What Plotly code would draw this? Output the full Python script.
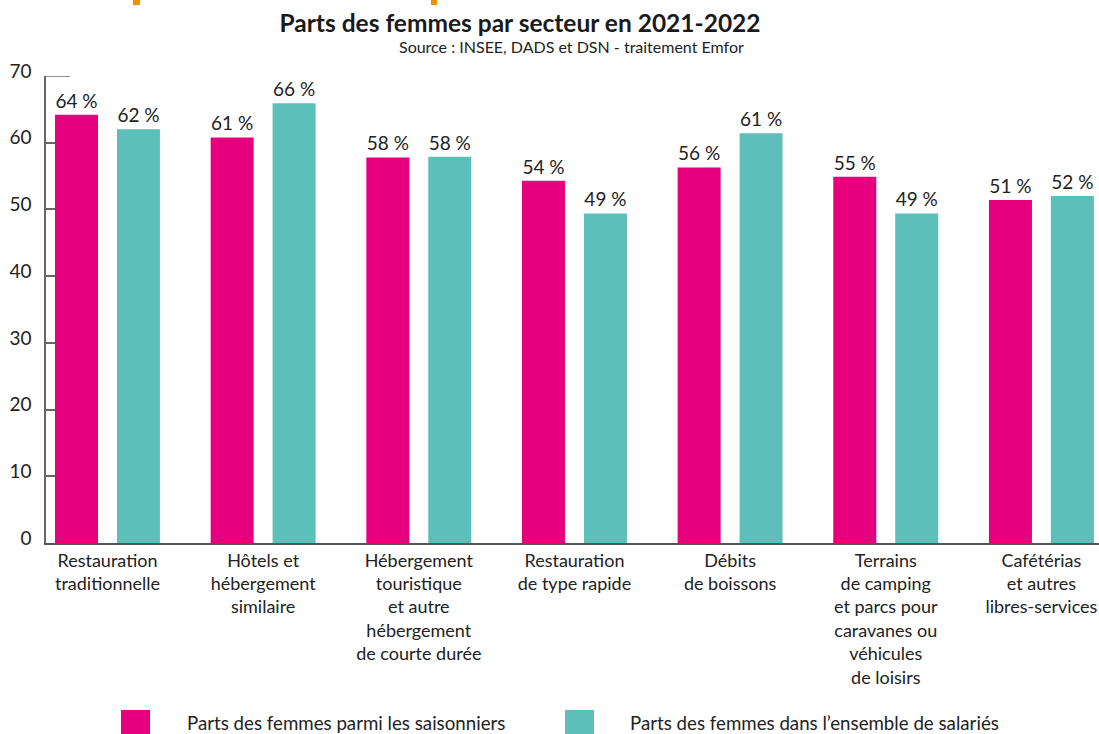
import plotly.graph_objects as go

# Secteurs (libellés sur plusieurs lignes)
secteurs = [
    "Restauration<br>traditionnelle",
    "Hôtels et<br>hébergement<br>similaire",
    "Hébergement<br>touristique<br>et autre<br>hébergement<br>de courte durée",
    "Restauration<br>de type rapide",
    "Débits<br>de boissons",
    "Terrains<br>de camping<br>et parcs pour<br>caravanes ou<br>véhicules<br>de loisirs",
    "Cafétérias<br>et autres<br>libres-services",
]

# Parts des femmes (%)
saisonniers = [64.2, 60.8, 57.8, 54.3, 56.3, 54.9, 51.4]
ensemble = [62.0, 65.9, 57.9, 49.4, 61.4, 49.4, 52.0]

nom_saisonniers = "Parts des femmes parmi les saisonniers"
nom_ensemble = "Parts des femmes dans l\u2019ensemble de salariés"

ROSE = "#E6007E"
TURQUOISE = "#5DBFB9"
FONT = "Lato"
GRIS_AXE = "#666666"

W, H = 1099, 734
ML, MR, MT, MB = 46, 0, 76, 191
plot_w = W - ML - MR
plot_h = H - MT - MB


def px_x(p):
    return (p - ML) / plot_w


def px_y(p):
    return (H - MB - p) / plot_h


fig = go.Figure()
for nom, vals, col in [(nom_saisonniers, saisonniers, ROSE), (nom_ensemble, ensemble, TURQUOISE)]:
    fig.add_trace(go.Bar(
        x=list(range(len(secteurs))), y=vals, name=nom,
        marker=dict(color=col, line=dict(width=0)),
        texttemplate="%{y:.0f} %", textposition="outside",
        textfont=dict(family=FONT, size=19, color="#222222"),
        cliponaxis=False, showlegend=False,
    ))

fig.update_layout(
    width=W, height=H,
    margin=dict(l=ML, r=MR, t=MT, b=MB),
    paper_bgcolor="white", plot_bgcolor="white",
    barmode="group", bargap=0.204, bargroupgap=0.306,
    font=dict(family=FONT, color="#222222"),
    title=dict(
        text="<b>Parts des femmes par secteur en 2021-2022</b>",
        font=dict(family=FONT, size=24.5, color="#1a1a1a"),
        x=520 / W, xanchor="center", xref="container",
        y=1 - 23 / H, yanchor="middle", yref="container",
    ),
    xaxis=dict(
        tickmode="array", tickvals=list(range(len(secteurs))), ticktext=secteurs,
        range=[-0.395, 6.37], showgrid=False, zeroline=False,
        showline=True, linecolor="#555555", linewidth=2,
        ticks="", tickfont=dict(family=FONT, size=18, color="#222222"),
    ),
    yaxis=dict(
        range=[0, 70], dtick=10, showgrid=False, zeroline=False,
        showline=True, linecolor=GRIS_AXE, linewidth=1.5,
        ticks="inside", ticklen=9, tickcolor=GRIS_AXE, tickwidth=1.5,
        tickfont=dict(family=FONT, size=19, color="#222222"),
        ticklabelshift=-5, ticklabelstandoff=9,
    ),
)

# Sous-titre
fig.add_annotation(
    text="Source : INSEE, DADS et DSN - traitement Emfor",
    xref="paper", yref="paper", x=px_x(571), y=px_y(47),
    xanchor="center", yanchor="middle", showarrow=False,
    font=dict(family=FONT, size=16, color="#222222"),
)

# Trait supérieur de l'axe des ordonnées
fig.add_shape(type="line", xref="paper", yref="y", x0=0, x1=px_x(70), y0=70, y1=70,
              line=dict(color=GRIS_AXE, width=1.5))

# Marques orange en haut de page
for x0, x1 in [(133, 140), (431, 437)]:
    fig.add_shape(type="rect", xref="paper", yref="paper",
                  x0=px_x(x0), x1=px_x(x1), y0=px_y(5), y1=px_y(0),
                  line=dict(width=0), fillcolor="#F39200")

# Légende
for nom, col, sx, tx in [(nom_saisonniers, ROSE, 121, 185), (nom_ensemble, TURQUOISE, 565, 628)]:
    fig.add_shape(type="rect", xref="paper", yref="paper",
                  x0=px_x(sx), x1=px_x(sx + 29), y0=px_y(736), y1=px_y(710),
                  line=dict(width=0), fillcolor=col)
    fig.add_annotation(
        text=nom, xref="paper", yref="paper", x=px_x(tx), y=px_y(723),
        xanchor="left", yanchor="middle", showarrow=False,
        font=dict(family=FONT, size=18.7, color="#222222"),
    )

fig.write_html("out.html")
